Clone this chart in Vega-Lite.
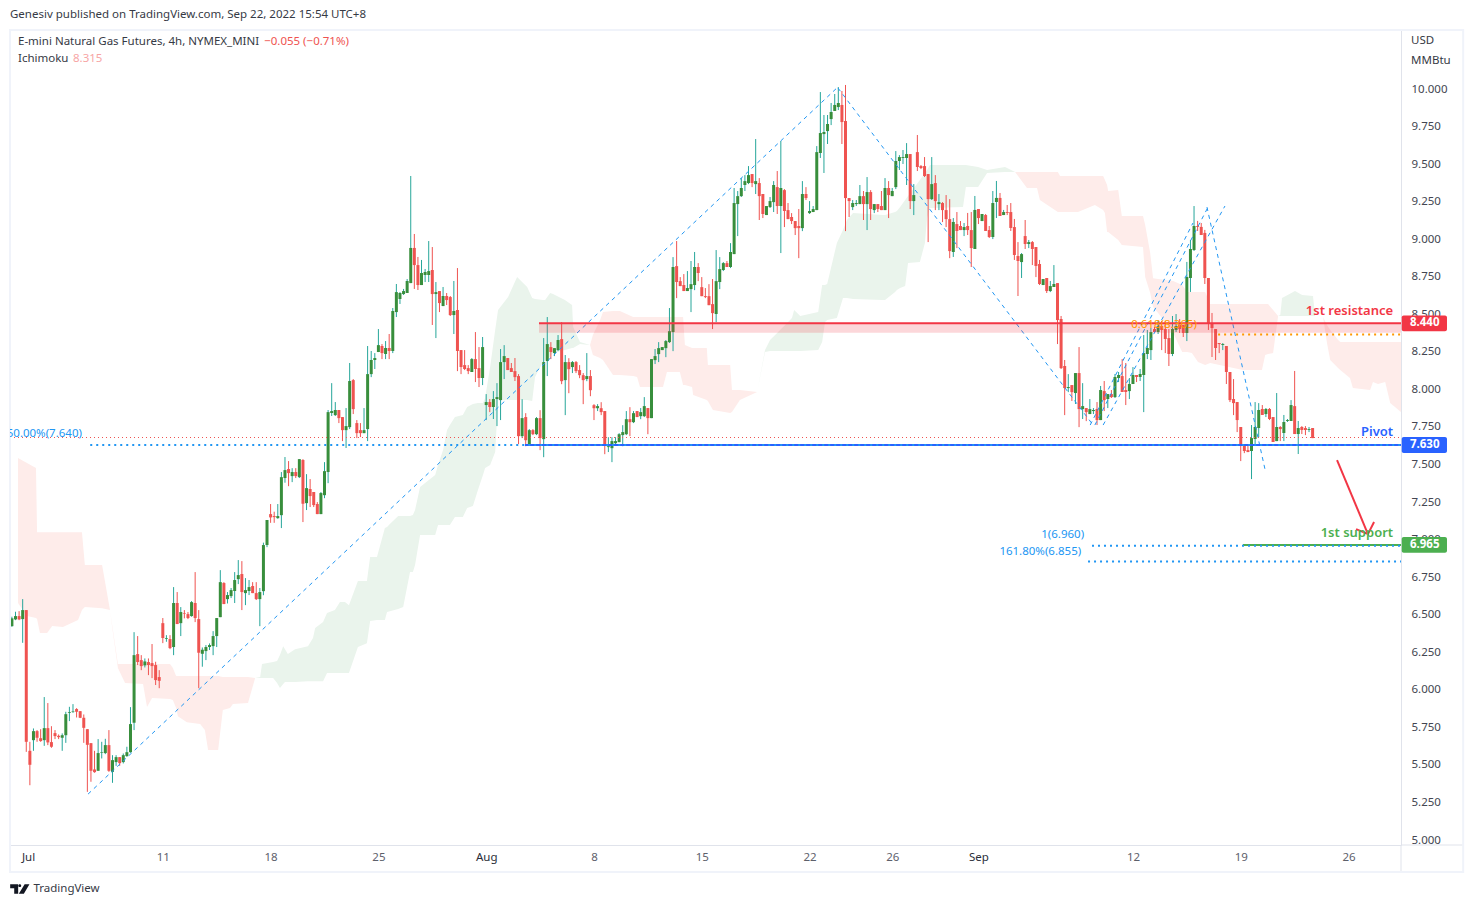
{"$schema":"https://vega.github.io/schema/vega-lite/v6.json","width":1391,"height":815,"autosize":{"type":"none"},"padding":{"left":10,"top":30,"right":72,"bottom":62},"background":"#ffffff","config":{"view":{"stroke":null},"font":"Noto Sans","text":{"font":"Noto Sans"},"scale":{"continuousPadding":0}},"resolve":{"axis":{"x":"independent","y":"independent"}},
"datasets":{"candles":[
{"b":-3,"o":6.424,"h":6.487,"l":6.42,"c":6.476},{"b":-2,"o":6.469,"h":6.52,"l":6.464,"c":6.491},{"b":-1,"o":6.491,"h":6.524,"l":6.464,"c":6.469},{"b":0,"o":6.471,"h":6.604,"l":6.313,"c":6.531},{"b":1,"o":6.531,"h":6.531,"l":5.587,"c":5.654},{"b":2,"o":5.594,"h":5.654,"l":5.365,"c":5.501},{"b":3,"o":5.665,"h":5.743,"l":5.594,"c":5.725},{"b":4,"o":5.725,"h":5.732,"l":5.654,"c":5.681},{"b":5,"o":5.678,"h":5.738,"l":5.654,"c":5.659},{"b":6,"o":5.665,"h":5.952,"l":5.627,"c":5.745},{"b":7,"o":5.745,"h":5.912,"l":5.632,"c":5.65},{"b":8,"o":5.652,"h":5.758,"l":5.614,"c":5.621},{"b":9,"o":5.712,"h":5.732,"l":5.672,"c":5.692},{"b":10,"o":5.694,"h":5.703,"l":5.672,"c":5.685},{"b":11,"o":5.681,"h":5.71,"l":5.594,"c":5.698},{"b":12,"o":5.698,"h":5.854,"l":5.647,"c":5.838},{"b":13,"o":5.847,"h":5.887,"l":5.792,"c":5.852},{"b":14,"o":5.852,"h":5.905,"l":5.847,"c":5.856},{"b":15,"o":5.872,"h":5.878,"l":5.816,"c":5.854},{"b":16,"o":5.858,"h":5.858,"l":5.812,"c":5.814},{"b":17,"o":5.814,"h":5.836,"l":5.647,"c":5.747},{"b":18,"o":5.738,"h":5.738,"l":5.321,"c":5.634},{"b":19,"o":5.645,"h":5.645,"l":5.388,"c":5.461},{"b":20,"o":5.47,"h":5.594,"l":5.448,"c":5.452},{"b":21,"o":5.461,"h":5.672,"l":5.461,"c":5.579},{"b":22,"o":5.581,"h":5.654,"l":5.543,"c":5.585},{"b":23,"o":5.579,"h":5.674,"l":5.572,"c":5.632},{"b":24,"o":5.632,"h":5.732,"l":5.454,"c":5.461},{"b":25,"o":5.454,"h":5.565,"l":5.381,"c":5.532},{"b":26,"o":5.519,"h":5.565,"l":5.494,"c":5.552},{"b":27,"o":5.552,"h":5.552,"l":5.494,"c":5.512},{"b":28,"o":5.519,"h":5.576,"l":5.51,"c":5.565},{"b":29,"o":5.559,"h":5.621,"l":5.554,"c":5.585},{"b":30,"o":5.585,"h":5.885,"l":5.581,"c":5.772},{"b":31,"o":5.781,"h":6.384,"l":5.732,"c":6.231},{"b":32,"o":6.238,"h":6.358,"l":6.165,"c":6.185},{"b":33,"o":6.198,"h":6.231,"l":6.131,"c":6.158},{"b":34,"o":6.163,"h":6.209,"l":6.149,"c":6.189},{"b":35,"o":6.185,"h":6.209,"l":6.098,"c":6.165},{"b":36,"o":6.178,"h":6.305,"l":6.078,"c":6.158},{"b":37,"o":6.165,"h":6.187,"l":6.032,"c":6.065},{"b":38,"o":6.085,"h":6.131,"l":6.011,"c":6.06},{"b":39,"o":6.444,"h":6.478,"l":6.311,"c":6.345},{"b":40,"o":6.34,"h":6.364,"l":6.32,"c":6.345},{"b":41,"o":6.338,"h":6.364,"l":6.271,"c":6.278},{"b":42,"o":6.285,"h":6.684,"l":6.231,"c":6.578},{"b":43,"o":6.578,"h":6.651,"l":6.438,"c":6.438},{"b":44,"o":6.444,"h":6.551,"l":6.358,"c":6.518},{"b":45,"o":6.511,"h":6.531,"l":6.476,"c":6.507},{"b":46,"o":6.504,"h":6.518,"l":6.471,"c":6.478},{"b":47,"o":6.491,"h":6.591,"l":6.487,"c":6.584},{"b":48,"o":6.578,"h":6.784,"l":6.451,"c":6.478},{"b":49,"o":6.471,"h":6.531,"l":6.011,"c":6.247},{"b":50,"o":6.24,"h":6.282,"l":6.154,"c":6.267},{"b":51,"o":6.258,"h":6.298,"l":6.198,"c":6.285},{"b":52,"o":6.285,"h":6.309,"l":6.265,"c":6.298},{"b":53,"o":6.291,"h":6.391,"l":6.231,"c":6.358},{"b":54,"o":6.358,"h":6.478,"l":6.285,"c":6.478},{"b":55,"o":6.484,"h":6.797,"l":6.484,"c":6.717},{"b":56,"o":6.711,"h":6.717,"l":6.571,"c":6.571},{"b":57,"o":6.604,"h":6.651,"l":6.575,"c":6.631},{"b":58,"o":6.624,"h":6.678,"l":6.611,"c":6.664},{"b":59,"o":6.658,"h":6.784,"l":6.578,"c":6.731},{"b":60,"o":6.737,"h":6.864,"l":6.704,"c":6.764},{"b":61,"o":6.771,"h":6.857,"l":6.531,"c":6.651},{"b":62,"o":6.644,"h":6.744,"l":6.564,"c":6.664},{"b":63,"o":6.658,"h":6.731,"l":6.631,"c":6.684},{"b":64,"o":6.691,"h":6.717,"l":6.644,"c":6.644},{"b":65,"o":6.644,"h":6.717,"l":6.598,"c":6.604},{"b":66,"o":6.604,"h":6.678,"l":6.424,"c":6.651},{"b":67,"o":6.657,"h":6.98,"l":6.63,"c":6.964},{"b":68,"o":6.964,"h":7.13,"l":6.95,"c":7.13},
{"b":69,"o":7.17,"h":7.237,"l":7.112,"c":7.148},{"b":70,"o":7.157,"h":7.186,"l":7.112,"c":7.15},{"b":71,"o":7.143,"h":7.237,"l":7.139,"c":7.157},{"b":72,"o":7.163,"h":7.45,"l":7.077,"c":7.416},{"b":73,"o":7.41,"h":7.55,"l":7.379,"c":7.463},{"b":74,"o":7.47,"h":7.523,"l":7.356,"c":7.443},{"b":75,"o":7.423,"h":7.476,"l":7.383,"c":7.45},{"b":76,"o":7.45,"h":7.476,"l":7.41,"c":7.423},{"b":77,"o":7.416,"h":7.536,"l":7.41,"c":7.536},{"b":78,"o":7.53,"h":7.536,"l":7.117,"c":7.239},{"b":79,"o":7.243,"h":7.436,"l":7.197,"c":7.343},{"b":80,"o":7.337,"h":7.403,"l":7.217,"c":7.29},{"b":81,"o":7.317,"h":7.317,"l":7.217,"c":7.23},{"b":82,"o":7.237,"h":7.25,"l":7.17,"c":7.17},{"b":83,"o":7.17,"h":7.317,"l":7.17,"c":7.31},{"b":84,"o":7.296,"h":7.516,"l":7.276,"c":7.456},{"b":85,"o":7.45,"h":7.863,"l":7.376,"c":7.849},{"b":86,"o":7.843,"h":8.042,"l":7.823,"c":7.856},{"b":87,"o":7.829,"h":7.916,"l":7.823,"c":7.863},{"b":88,"o":7.863,"h":7.863,"l":7.776,"c":7.809},{"b":89,"o":7.816,"h":7.816,"l":7.656,"c":7.729},{"b":90,"o":7.729,"h":7.876,"l":7.61,"c":7.756},{"b":91,"o":7.749,"h":8.176,"l":7.736,"c":8.056},{"b":92,"o":8.062,"h":8.069,"l":7.836,"c":7.869},{"b":93,"o":7.776,"h":7.796,"l":7.676,"c":7.709},{"b":94,"o":7.729,"h":7.776,"l":7.683,"c":7.709},{"b":95,"o":7.709,"h":7.876,"l":7.709,"c":7.729},{"b":96,"o":7.736,"h":8.289,"l":7.656,"c":8.102},{"b":97,"o":8.102,"h":8.256,"l":8.082,"c":8.196},{"b":98,"o":8.196,"h":8.242,"l":8.136,"c":8.209},{"b":99,"o":8.249,"h":8.402,"l":8.249,"c":8.295},{"b":100,"o":8.289,"h":8.302,"l":8.202,"c":8.242},{"b":101,"o":8.236,"h":8.322,"l":8.202,"c":8.276},{"b":102,"o":8.276,"h":8.369,"l":8.202,"c":8.256},{"b":103,"o":8.256,"h":8.542,"l":8.242,"c":8.522},{"b":104,"o":8.515,"h":8.702,"l":8.482,"c":8.648},{"b":105,"o":8.602,"h":8.648,"l":8.569,"c":8.642},{"b":106,"o":8.635,"h":8.669,"l":8.629,"c":8.655},{"b":107,"o":8.642,"h":8.735,"l":8.642,"c":8.722},{"b":108,"o":8.708,"h":9.421,"l":8.708,"c":8.942},{"b":109,"o":8.942,"h":9.035,"l":8.669,"c":8.828},{"b":110,"o":8.828,"h":8.882,"l":8.662,"c":8.695},{"b":111,"o":8.695,"h":8.862,"l":8.695,"c":8.775},{"b":112,"o":8.762,"h":8.802,"l":8.715,"c":8.782},{"b":113,"o":8.762,"h":8.988,"l":8.715,"c":8.788},{"b":114,"o":8.795,"h":8.948,"l":8.429,"c":8.635},{"b":115,"o":8.635,"h":8.715,"l":8.342,"c":8.648},{"b":116,"o":8.655,"h":8.655,"l":8.515,"c":8.575},{"b":117,"o":8.555,"h":8.682,"l":8.555,"c":8.622},{"b":118,"o":8.622,"h":8.642,"l":8.562,"c":8.595},{"b":119,"o":8.615,"h":8.622,"l":8.489,"c":8.495},{"b":120,"o":8.495,"h":8.722,"l":8.369,"c":8.522},{"b":121,"o":8.529,"h":8.808,"l":8.122,"c":8.256},{"b":122,"o":8.262,"h":8.262,"l":8.102,"c":8.149},{"b":123,"o":8.162,"h":8.262,"l":8.129,"c":8.136},{"b":124,"o":8.142,"h":8.162,"l":8.102,"c":8.122},{"b":125,"o":8.116,"h":8.209,"l":8.116,"c":8.202},{"b":126,"o":8.202,"h":8.382,"l":8.049,"c":8.136},{"b":127,"o":8.142,"h":8.282,"l":8.016,"c":8.076},{"b":128,"o":8.076,"h":8.349,"l":8.029,"c":8.282},{"b":129,"o":7.896,"h":7.969,"l":7.796,"c":7.916},{"b":130,"o":7.916,"h":7.936,"l":7.849,"c":7.883},{"b":131,"o":7.883,"h":7.989,"l":7.803,"c":7.936},{"b":132,"o":7.936,"h":8.042,"l":7.756,"c":7.949},{"b":133,"o":7.929,"h":8.269,"l":7.796,"c":8.182},{"b":134,"o":8.182,"h":8.295,"l":8.069,"c":8.222},{"b":135,"o":8.209,"h":8.209,"l":8.129,"c":8.129},{"b":136,"o":8.142,"h":8.176,"l":8.116,"c":8.116},{"b":137,"o":8.122,"h":8.209,"l":8.056,"c":8.082},{"b":138,"o":8.089,"h":8.102,"l":7.636,"c":7.689},
{"b":139,"o":7.689,"h":7.935,"l":7.676,"c":7.809},{"b":140,"o":7.816,"h":7.842,"l":7.622,"c":7.662},{"b":141,"o":7.636,"h":7.736,"l":7.629,"c":7.729},{"b":142,"o":7.729,"h":7.736,"l":7.696,"c":7.702},{"b":143,"o":7.702,"h":7.816,"l":7.696,"c":7.809},{"b":144,"o":7.809,"h":7.862,"l":7.596,"c":7.676},{"b":145,"o":7.669,"h":8.342,"l":7.549,"c":8.182},{"b":146,"o":8.189,"h":8.482,"l":8.089,"c":8.302},{"b":147,"o":8.282,"h":8.315,"l":8.202,"c":8.249},{"b":148,"o":8.242,"h":8.275,"l":8.222,"c":8.275},{"b":149,"o":8.262,"h":8.362,"l":8.255,"c":8.329},{"b":150,"o":8.335,"h":8.448,"l":8.035,"c":8.055},{"b":151,"o":8.062,"h":8.229,"l":7.829,"c":8.182},{"b":152,"o":8.182,"h":8.208,"l":7.975,"c":8.135},{"b":153,"o":8.149,"h":8.189,"l":8.109,"c":8.182},{"b":154,"o":8.182,"h":8.189,"l":8.109,"c":8.122},{"b":155,"o":8.129,"h":8.162,"l":8.075,"c":8.095},{"b":156,"o":8.095,"h":8.109,"l":7.902,"c":8.062},{"b":157,"o":8.069,"h":8.242,"l":8.055,"c":8.089},{"b":158,"o":8.089,"h":8.129,"l":7.955,"c":7.995},{"b":159,"o":7.895,"h":7.902,"l":7.796,"c":7.875},{"b":160,"o":7.875,"h":7.902,"l":7.856,"c":7.889},{"b":161,"o":7.875,"h":7.915,"l":7.829,"c":7.849},{"b":162,"o":7.856,"h":7.856,"l":7.569,"c":7.629},{"b":163,"o":7.616,"h":7.682,"l":7.583,"c":7.622},{"b":164,"o":7.609,"h":7.682,"l":7.516,"c":7.656},{"b":165,"o":7.642,"h":7.682,"l":7.636,"c":7.656},{"b":166,"o":7.649,"h":7.709,"l":7.649,"c":7.702},{"b":167,"o":7.696,"h":7.762,"l":7.622,"c":7.716},{"b":168,"o":7.702,"h":7.856,"l":7.696,"c":7.802},{"b":169,"o":7.802,"h":7.882,"l":7.689,"c":7.782},{"b":170,"o":7.782,"h":7.856,"l":7.776,"c":7.842},{"b":171,"o":7.856,"h":7.856,"l":7.816,"c":7.816},{"b":172,"o":7.822,"h":7.876,"l":7.802,"c":7.849},{"b":173,"o":7.822,"h":7.949,"l":7.816,"c":7.889},{"b":174,"o":7.876,"h":7.876,"l":7.702,"c":7.809},{"b":175,"o":7.809,"h":8.202,"l":7.809,"c":8.202},{"b":176,"o":8.195,"h":8.269,"l":8.169,"c":8.222},{"b":177,"o":8.235,"h":8.315,"l":8.182,"c":8.275},{"b":178,"o":8.262,"h":8.282,"l":8.262,"c":8.282},{"b":179,"o":8.275,"h":8.329,"l":8.215,"c":8.322},{"b":180,"o":8.315,"h":8.542,"l":8.309,"c":8.388},{"b":181,"o":8.382,"h":8.881,"l":8.255,"c":8.815},{"b":182,"o":8.821,"h":8.988,"l":8.608,"c":8.715},{"b":183,"o":8.721,"h":8.748,"l":8.688,"c":8.688},{"b":184,"o":8.695,"h":8.768,"l":8.655,"c":8.655},{"b":185,"o":8.655,"h":8.788,"l":8.655,"c":8.675},{"b":186,"o":8.668,"h":8.855,"l":8.515,"c":8.701},{"b":187,"o":8.695,"h":8.915,"l":8.661,"c":8.815},{"b":188,"o":8.815,"h":8.841,"l":8.721,"c":8.775},
{"b":189,"o":8.681,"h":8.748,"l":8.621,"c":8.621},{"b":190,"o":8.621,"h":8.675,"l":8.608,"c":8.615},{"b":191,"o":8.621,"h":8.701,"l":8.561,"c":8.561},{"b":192,"o":8.568,"h":8.735,"l":8.402,"c":8.508},{"b":193,"o":8.502,"h":8.928,"l":8.448,"c":8.721},{"b":194,"o":8.715,"h":8.881,"l":8.668,"c":8.801},{"b":195,"o":8.795,"h":8.848,"l":8.788,"c":8.841},{"b":196,"o":8.841,"h":8.855,"l":8.815,"c":8.815},{"b":197,"o":8.815,"h":8.974,"l":8.808,"c":8.915},{"b":198,"o":8.901,"h":9.341,"l":8.901,"c":9.241},{"b":199,"o":9.234,"h":9.321,"l":9.021,"c":9.287},{"b":200,"o":9.287,"h":9.407,"l":9.281,"c":9.341},{"b":201,"o":9.361,"h":9.427,"l":9.321,"c":9.387},{"b":202,"o":9.374,"h":9.487,"l":9.367,"c":9.427},{"b":203,"o":9.434,"h":9.434,"l":9.347,"c":9.374},{"b":204,"o":9.367,"h":9.667,"l":9.301,"c":9.387},{"b":205,"o":9.374,"h":9.407,"l":9.128,"c":9.287},{"b":206,"o":9.301,"h":9.301,"l":9.141,"c":9.168},{"b":207,"o":9.161,"h":9.221,"l":9.161,"c":9.221},{"b":208,"o":9.214,"h":9.281,"l":9.208,"c":9.254},{"b":209,"o":9.247,"h":9.387,"l":9.181,"c":9.361},{"b":210,"o":9.347,"h":9.454,"l":9.168,"c":9.221},{"b":211,"o":9.221,"h":9.654,"l":8.908,"c":9.341},{"b":212,"o":9.327,"h":9.334,"l":9.081,"c":9.188},{"b":213,"o":9.194,"h":9.241,"l":9.134,"c":9.134},{"b":214,"o":9.148,"h":9.174,"l":9.101,"c":9.121},{"b":215,"o":9.121,"h":9.121,"l":9.028,"c":9.074},{"b":216,"o":9.088,"h":9.201,"l":8.874,"c":9.074},{"b":217,"o":9.074,"h":9.387,"l":9.054,"c":9.301},{"b":218,"o":9.301,"h":9.347,"l":9.261,"c":9.274},{"b":219,"o":9.174,"h":9.254,"l":9.168,"c":9.188},{"b":220,"o":9.181,"h":9.221,"l":9.181,"c":9.201},{"b":221,"o":9.194,"h":9.62,"l":9.194,"c":9.58},{"b":222,"o":9.574,"h":9.98,"l":9.541,"c":9.707},{"b":223,"o":9.7,"h":9.827,"l":9.441,"c":9.714},{"b":224,"o":9.72,"h":9.827,"l":9.634,"c":9.767},{"b":225,"o":9.8,"h":9.907,"l":9.76,"c":9.847},{"b":226,"o":9.854,"h":9.967,"l":9.854,"c":9.894},{"b":227,"o":9.88,"h":10.013,"l":9.86,"c":9.907},{"b":228,"o":9.894,"h":9.987,"l":9.634,"c":9.78},{"b":229,"o":9.787,"h":10.027,"l":9.054,"c":9.274},{"b":230,"o":9.274,"h":9.274,"l":9.148,"c":9.254},{"b":231,"o":9.214,"h":9.261,"l":9.194,"c":9.241},{"b":232,"o":9.234,"h":9.261,"l":9.221,"c":9.241},{"b":233,"o":9.234,"h":9.361,"l":9.234,"c":9.287},{"b":234,"o":9.287,"h":9.321,"l":9.128,"c":9.234},{"b":235,"o":9.234,"h":9.414,"l":9.061,"c":9.314},{"b":236,"o":9.314,"h":9.327,"l":9.128,"c":9.201},{"b":237,"o":9.194,"h":9.234,"l":9.174,"c":9.234},{"b":238,"o":9.234,"h":9.234,"l":9.181,"c":9.201},{"b":239,"o":9.221,"h":9.321,"l":9.194,"c":9.194},{"b":240,"o":9.194,"h":9.407,"l":9.194,"c":9.341},{"b":241,"o":9.341,"h":9.387,"l":9.141,"c":9.294},{"b":242,"o":9.287,"h":9.341,"l":9.287,"c":9.321},{"b":243,"o":9.347,"h":9.587,"l":9.334,"c":9.521},{"b":244,"o":9.521,"h":9.56,"l":9.461,"c":9.547},{"b":245,"o":9.541,"h":9.594,"l":9.501,"c":9.547},{"b":246,"o":9.541,"h":9.64,"l":9.361,"c":9.567},{"b":247,"o":9.567,"h":9.567,"l":9.201,"c":9.254},{"b":248,"o":9.254,"h":9.367,"l":9.161,"c":9.294},{"b":249,"o":9.58,"h":9.694,"l":9.454,"c":9.481},{"b":250,"o":9.487,"h":9.494,"l":9.467,"c":9.474},{"b":251,"o":9.487,"h":9.547,"l":9.414,"c":9.421},{"b":252,"o":9.434,"h":9.434,"l":8.981,"c":9.267},{"b":253,"o":9.267,"h":9.547,"l":9.261,"c":9.367},{"b":254,"o":9.374,"h":9.427,"l":9.194,"c":9.254},{"b":255,"o":9.234,"h":9.301,"l":9.194,"c":9.247},{"b":256,"o":9.241,"h":9.247,"l":9.114,"c":9.194},{"b":257,"o":9.194,"h":9.294,"l":9.081,"c":9.134},{"b":258,"o":9.134,"h":9.267,"l":8.874,"c":8.921},
{"b":259,"o":8.915,"h":9.141,"l":8.882,"c":9.115},{"b":260,"o":9.101,"h":9.181,"l":8.941,"c":9.055},{"b":261,"o":9.088,"h":9.121,"l":9.061,"c":9.061},{"b":262,"o":9.061,"h":9.108,"l":9.021,"c":9.081},{"b":263,"o":9.088,"h":9.175,"l":9.028,"c":9.061},{"b":264,"o":9.061,"h":9.181,"l":8.815,"c":8.941},{"b":265,"o":8.935,"h":9.288,"l":8.935,"c":9.195},{"b":266,"o":9.201,"h":9.201,"l":9.101,"c":9.141},{"b":267,"o":9.121,"h":9.168,"l":9.121,"c":9.168},{"b":268,"o":9.161,"h":9.168,"l":9.055,"c":9.055},{"b":269,"o":9.061,"h":9.088,"l":9.008,"c":9.015},{"b":270,"o":9.015,"h":9.321,"l":9.001,"c":9.241},{"b":271,"o":9.248,"h":9.388,"l":9.141,"c":9.275},{"b":272,"o":9.275,"h":9.308,"l":9.155,"c":9.155},{"b":273,"o":9.161,"h":9.195,"l":9.161,"c":9.181},{"b":274,"o":9.181,"h":9.228,"l":9.161,"c":9.175},{"b":275,"o":9.181,"h":9.241,"l":9.055,"c":9.075},{"b":276,"o":9.081,"h":9.135,"l":8.862,"c":8.895},{"b":277,"o":8.888,"h":8.981,"l":8.622,"c":8.855},{"b":278,"o":8.848,"h":8.908,"l":8.742,"c":8.901},{"b":279,"o":9.021,"h":9.128,"l":8.935,"c":8.968},{"b":280,"o":8.968,"h":8.995,"l":8.941,"c":8.981},{"b":281,"o":8.981,"h":8.988,"l":8.828,"c":8.935},{"b":282,"o":8.948,"h":8.948,"l":8.748,"c":8.822},{"b":283,"o":8.835,"h":8.862,"l":8.695,"c":8.702},{"b":284,"o":8.695,"h":8.735,"l":8.695,"c":8.735},{"b":285,"o":8.742,"h":8.742,"l":8.642,"c":8.655},{"b":286,"o":8.655,"h":8.722,"l":8.648,"c":8.688},{"b":287,"o":8.682,"h":8.828,"l":8.682,"c":8.702},{"b":288,"o":8.708,"h":8.708,"l":8.302,"c":8.462},{"b":289,"o":8.469,"h":8.489,"l":8.136,"c":8.142},{"b":290,"o":8.156,"h":8.196,"l":7.829,"c":8.009},{"b":291,"o":8.009,"h":8.102,"l":7.982,"c":8.016},{"b":292,"o":8.029,"h":8.029,"l":7.923,"c":7.982},{"b":293,"o":7.976,"h":8.109,"l":7.903,"c":8.109},{"b":294,"o":8.109,"h":8.282,"l":7.749,"c":7.869},{"b":295,"o":7.869,"h":8.042,"l":7.803,"c":7.889},{"b":296,"o":7.876,"h":7.876,"l":7.789,"c":7.849},{"b":297,"o":7.836,"h":7.936,"l":7.836,"c":7.869},
{"b":298,"o":7.856,"h":7.876,"l":7.836,"c":7.863},{"b":299,"o":7.87,"h":7.916,"l":7.763,"c":7.796},{"b":300,"o":7.796,"h":8.023,"l":7.796,"c":7.996},{"b":301,"o":7.989,"h":8.056,"l":7.856,"c":7.929},{"b":302,"o":7.936,"h":7.969,"l":7.876,"c":7.969},{"b":303,"o":7.969,"h":7.996,"l":7.943,"c":7.949},{"b":304,"o":7.949,"h":8.103,"l":7.943,"c":8.083},{"b":305,"o":8.076,"h":8.116,"l":8.049,"c":8.096},{"b":306,"o":8.089,"h":8.202,"l":7.983,"c":7.983},{"b":307,"o":7.996,"h":8.176,"l":7.896,"c":7.983},{"b":308,"o":7.989,"h":8.076,"l":7.936,"c":8.036},{"b":309,"o":8.036,"h":8.149,"l":8.036,"c":8.096},{"b":310,"o":8.096,"h":8.096,"l":8.049,"c":8.083},{"b":311,"o":8.083,"h":8.136,"l":8.056,"c":8.103},{"b":312,"o":8.096,"h":8.362,"l":7.849,"c":8.242},{"b":313,"o":8.236,"h":8.396,"l":8.202,"c":8.276},{"b":314,"o":8.262,"h":8.409,"l":8.196,"c":8.382},{"b":315,"o":8.402,"h":8.416,"l":8.382,"c":8.382},{"b":316,"o":8.382,"h":8.462,"l":8.369,"c":8.422},{"b":317,"o":8.422,"h":8.456,"l":8.262,"c":8.396},{"b":318,"o":8.402,"h":8.456,"l":8.242,"c":8.336},{"b":319,"o":8.342,"h":8.402,"l":8.156,"c":8.236},{"b":320,"o":8.236,"h":8.489,"l":8.222,"c":8.402},{"b":321,"o":8.396,"h":8.502,"l":8.382,"c":8.422},{"b":322,"o":8.429,"h":8.469,"l":8.376,"c":8.402},{"b":323,"o":8.429,"h":8.429,"l":8.349,"c":8.376},{"b":324,"o":8.376,"h":8.849,"l":8.322,"c":8.749},{"b":325,"o":8.742,"h":8.995,"l":8.649,"c":8.935},{"b":326,"o":8.928,"h":9.221,"l":8.922,"c":9.088},{"b":327,"o":9.088,"h":9.122,"l":9.055,"c":9.082},{"b":328,"o":9.082,"h":9.108,"l":9.028,"c":9.028},{"b":329,"o":9.042,"h":9.062,"l":8.702,"c":8.742},{"b":330,"o":8.742,"h":8.742,"l":8.396,"c":8.442},{"b":331,"o":8.442,"h":8.509,"l":8.216,"c":8.409},{"b":332,"o":8.402,"h":8.402,"l":8.196,"c":8.276},{"b":333,"o":8.309,"h":8.309,"l":8.242,"c":8.302},{"b":334,"o":8.296,"h":8.309,"l":8.262,"c":8.302},{"b":335,"o":8.289,"h":8.289,"l":8.036,"c":8.116},{"b":336,"o":8.116,"h":8.116,"l":7.916,"c":7.929},{"b":337,"o":7.936,"h":8.069,"l":7.829,"c":7.909},{"b":338,"o":7.916,"h":7.916,"l":7.716,"c":7.796},{"b":339,"o":7.75,"h":7.75,"l":7.523,"c":7.63},{"b":340,"o":7.636,"h":7.636,"l":7.576,"c":7.59},{"b":341,"o":7.596,"h":7.63,"l":7.583,"c":7.583},{"b":342,"o":7.59,"h":7.763,"l":7.403,"c":7.676},{"b":343,"o":7.67,"h":7.916,"l":7.623,"c":7.75},{"b":344,"o":7.743,"h":7.909,"l":7.683,"c":7.863},{"b":345,"o":7.87,"h":7.896,"l":7.83,"c":7.83},{"b":346,"o":7.836,"h":7.876,"l":7.816,"c":7.87},{"b":347,"o":7.87,"h":7.876,"l":7.796,"c":7.803},{"b":348,"o":7.816,"h":7.816,"l":7.65,"c":7.65},{"b":349,"o":7.656,"h":7.976,"l":7.656,"c":7.75},{"b":350,"o":7.75,"h":7.756,"l":7.656,"c":7.736},{"b":351,"o":7.71,"h":7.83,"l":7.656,"c":7.783},{"b":352,"o":7.79,"h":7.803,"l":7.783,"c":7.796},{"b":353,"o":7.79,"h":7.929,"l":7.79,"c":7.896},{"b":354,"o":7.889,"h":8.123,"l":7.703,"c":7.703},{"b":355,"o":7.703,"h":7.79,"l":7.57,"c":7.743},{"b":356,"o":7.75,"h":7.756,"l":7.703,"c":7.73},{"b":357,"o":7.743,"h":7.756,"l":7.696,"c":7.73},{"b":358,"o":7.73,"h":7.75,"l":7.716,"c":7.736},{"b":359,"o":7.743,"h":7.743,"l":7.676,"c":7.676}],
"cloud":[
{"s":"a","k":"down","b":-1.3,"t":7.543,"n":6.578},{"s":"a","k":"down","b":1.2,"t":7.51,"n":6.491},{"s":"a","k":"down","b":3.7,"t":7.477,"n":6.478},{"s":"a","k":"down","b":4,"t":7.05,"n":6.471},{"s":"a","k":"down","b":4.8,"t":7.05,"n":6.378},{"s":"a","k":"down","b":6.8,"t":7.05,"n":6.378},{"s":"a","k":"down","b":8.2,"t":7.05,"n":6.425},{"s":"a","k":"down","b":11.2,"t":7.05,"n":6.418},{"s":"a","k":"down","b":15.4,"t":7.05,"n":6.465},{"s":"a","k":"down","b":16.5,"t":7.05,"n":6.531},{"s":"a","k":"down","b":17.3,"t":6.831,"n":6.551},{"s":"a","k":"down","b":22.1,"t":6.831,"n":6.544},{"s":"a","k":"down","b":24.3,"t":6.531,"n":6.531},{"s":"a","k":"down","b":24.9,"t":6.431,"n":6.418},{"s":"a","k":"down","b":26.5,"t":6.172,"n":6.145},{"s":"a","k":"down","b":28.5,"t":6.172,"n":6.045},{"s":"a","k":"down","b":33.5,"t":6.172,"n":6.039},{"s":"a","k":"down","b":34.6,"t":6.172,"n":5.885},{"s":"a","k":"down","b":36,"t":6.172,"n":5.945},{"s":"a","k":"down","b":41,"t":6.172,"n":5.939},{"s":"a","k":"down","b":41.8,"t":6.145,"n":5.932},{"s":"a","k":"down","b":42.7,"t":6.092,"n":5.879},{"s":"a","k":"down","b":43.2,"t":6.092,"n":5.825},{"s":"a","k":"down","b":45.7,"t":6.092,"n":5.785},{"s":"a","k":"down","b":49.4,"t":6.092,"n":5.772},{"s":"a","k":"down","b":50.7,"t":6.092,"n":5.732},{"s":"a","k":"down","b":51.6,"t":6.092,"n":5.599},{"s":"a","k":"down","b":54.4,"t":6.092,"n":5.599},{"s":"a","k":"down","b":55.7,"t":6.085,"n":5.865},{"s":"a","k":"down","b":57.7,"t":6.085,"n":5.879},{"s":"a","k":"down","b":58.5,"t":6.085,"n":5.905},{"s":"a","k":"down","b":62.7,"t":6.085,"n":5.912},{"s":"a","k":"down","b":64.7,"t":6.079,"n":6.079},
{"s":"b","k":"up","b":64.7,"t":6.079,"n":6.079},{"s":"b","k":"up","b":66.1,"t":6.085,"n":6.079},{"s":"b","k":"up","b":66.6,"t":6.172,"n":6.079},{"s":"b","k":"up","b":69.7,"t":6.185,"n":6.079},{"s":"b","k":"up","b":70.8,"t":6.192,"n":6.045},{"s":"b","k":"up","b":71.6,"t":6.232,"n":6.012},{"s":"b","k":"up","b":72.5,"t":6.291,"n":6.039},{"s":"b","k":"up","b":73,"t":6.271,"n":6.052},{"s":"b","k":"up","b":73.8,"t":6.238,"n":6.052},{"s":"b","k":"up","b":75.8,"t":6.271,"n":6.052},{"s":"b","k":"up","b":79.4,"t":6.291,"n":6.058},{"s":"b","k":"up","b":80.8,"t":6.345,"n":6.058},{"s":"b","k":"up","b":81.4,"t":6.411,"n":6.058},{"s":"b","k":"up","b":83.6,"t":6.451,"n":6.058},{"s":"b","k":"up","b":84.7,"t":6.511,"n":6.112},{"s":"b","k":"up","b":86.9,"t":6.531,"n":6.112},{"s":"b","k":"up","b":88.3,"t":6.584,"n":6.112},{"s":"b","k":"up","b":89.7,"t":6.584,"n":6.112},{"s":"b","k":"up","b":90.8,"t":6.564,"n":6.112},{"s":"b","k":"up","b":93.3,"t":6.724,"n":6.285},{"s":"b","k":"up","b":95.8,"t":6.724,"n":6.311},{"s":"b","k":"up","b":96.7,"t":6.884,"n":6.458},{"s":"b","k":"up","b":98.6,"t":6.884,"n":6.465},{"s":"b","k":"up","b":100.8,"t":7.077,"n":6.465},{"s":"b","k":"up","b":101.4,"t":7.084,"n":6.518},{"s":"b","k":"up","b":102.2,"t":7.104,"n":6.524},{"s":"b","k":"up","b":104.5,"t":7.157,"n":6.538},{"s":"b","k":"up","b":105.9,"t":7.157,"n":6.551},{"s":"b","k":"up","b":107.8,"t":7.157,"n":6.784},{"s":"b","k":"up","b":108.6,"t":7.164,"n":6.784},{"s":"b","k":"up","b":109.2,"t":7.197,"n":6.831},{"s":"b","k":"up","b":110.6,"t":7.35,"n":7.031},{"s":"b","k":"up","b":114.8,"t":7.43,"n":7.031},{"s":"b","k":"up","b":115.6,"t":7.497,"n":7.097},{"s":"b","k":"up","b":117,"t":7.596,"n":7.097},{"s":"b","k":"up","b":118.1,"t":7.73,"n":7.097},{"s":"b","k":"up","b":118.9,"t":7.763,"n":7.097},{"s":"b","k":"up","b":120.3,"t":7.816,"n":7.15},{"s":"b","k":"up","b":122.5,"t":7.83,"n":7.15},{"s":"b","k":"up","b":123.7,"t":7.883,"n":7.21},{"s":"b","k":"up","b":125.3,"t":7.903,"n":7.224},{"s":"b","k":"up","b":126.7,"t":7.909,"n":7.33},{"s":"b","k":"up","b":128.1,"t":7.909,"n":7.43},{"s":"b","k":"up","b":128.7,"t":7.943,"n":7.477},{"s":"b","k":"up","b":130.1,"t":8.149,"n":7.497},{"s":"b","k":"up","b":131.5,"t":8.395,"n":7.583},{"s":"b","k":"up","b":132.3,"t":8.529,"n":7.929},{"s":"b","k":"up","b":135.1,"t":8.615,"n":7.929},{"s":"b","k":"up","b":137.6,"t":8.749,"n":7.929},{"s":"b","k":"up","b":140.4,"t":8.682,"n":7.929},{"s":"b","k":"up","b":141.8,"t":8.608,"n":7.923},{"s":"b","k":"up","b":142.6,"t":8.602,"n":8.082},{"s":"b","k":"up","b":144.8,"t":8.595,"n":8.182},{"s":"b","k":"up","b":145.4,"t":8.595,"n":8.196},{"s":"b","k":"up","b":146.8,"t":8.642,"n":8.216},{"s":"b","k":"up","b":147.6,"t":8.635,"n":8.242},{"s":"b","k":"up","b":150.9,"t":8.595,"n":8.262},{"s":"b","k":"up","b":152.9,"t":8.562,"n":8.276},{"s":"b","k":"up","b":153.2,"t":8.415,"n":8.276},{"s":"b","k":"up","b":155.1,"t":8.315,"n":8.302},{"s":"b","k":"up","b":157.9,"t":8.296,"n":8.296},
{"s":"c","k":"down","b":157.9,"t":8.296,"n":8.296},{"s":"c","k":"down","b":158.7,"t":8.362,"n":8.229},{"s":"c","k":"down","b":160.7,"t":8.462,"n":8.209},{"s":"c","k":"down","b":161.5,"t":8.515,"n":8.196},{"s":"c","k":"down","b":164.3,"t":8.522,"n":8.096},{"s":"c","k":"down","b":166.2,"t":8.522,"n":8.096},{"s":"c","k":"down","b":169.9,"t":8.482,"n":8.089},{"s":"c","k":"down","b":171,"t":8.482,"n":8.082},{"s":"c","k":"down","b":171.8,"t":8.482,"n":8.016},{"s":"c","k":"down","b":178.2,"t":8.482,"n":8.016},{"s":"c","k":"down","b":179.3,"t":8.482,"n":8.116},{"s":"c","k":"down","b":182.9,"t":8.482,"n":8.116},{"s":"c","k":"down","b":183.8,"t":8.482,"n":8.029},{"s":"c","k":"down","b":184.3,"t":8.296,"n":8.029},{"s":"c","k":"down","b":186.3,"t":8.276,"n":8.016},{"s":"c","k":"down","b":186.6,"t":8.276,"n":7.963},{"s":"c","k":"down","b":190.4,"t":8.276,"n":7.929},{"s":"c","k":"down","b":190.7,"t":8.162,"n":7.923},{"s":"c","k":"down","b":192.1,"t":8.162,"n":7.863},{"s":"c","k":"down","b":196.9,"t":8.162,"n":7.843},{"s":"c","k":"down","b":197.4,"t":7.996,"n":7.849},{"s":"c","k":"down","b":199.6,"t":7.996,"n":7.929},{"s":"c","k":"down","b":204.4,"t":7.983,"n":7.983},
{"s":"d","k":"up","b":204.4,"t":7.983,"n":7.983},{"s":"d","k":"up","b":206.6,"t":8.262,"n":8.249},{"s":"d","k":"up","b":208,"t":8.329,"n":8.256},{"s":"d","k":"up","b":212.2,"t":8.429,"n":8.256},{"s":"d","k":"up","b":214.1,"t":8.475,"n":8.256},{"s":"d","k":"up","b":214.7,"t":8.529,"n":8.256},{"s":"d","k":"up","b":216.4,"t":8.489,"n":8.256},{"s":"d","k":"up","b":221.4,"t":8.515,"n":8.262},{"s":"d","k":"up","b":222.5,"t":8.695,"n":8.315},{"s":"d","k":"up","b":223.3,"t":8.695,"n":8.449},{"s":"d","k":"up","b":223.9,"t":8.702,"n":8.462},{"s":"d","k":"up","b":226.6,"t":8.975,"n":8.475},{"s":"d","k":"up","b":228.3,"t":9.061,"n":8.608},{"s":"d","k":"up","b":229.4,"t":9.128,"n":8.608},{"s":"d","k":"up","b":231.1,"t":9.174,"n":8.602},{"s":"d","k":"up","b":239.4,"t":9.161,"n":8.595},{"s":"d","k":"up","b":240,"t":9.161,"n":8.595},{"s":"d","k":"up","b":242.8,"t":9.181,"n":8.648},{"s":"d","k":"up","b":243.3,"t":9.188,"n":8.662},{"s":"d","k":"up","b":244.2,"t":9.214,"n":8.675},{"s":"d","k":"up","b":245.6,"t":9.261,"n":8.688},{"s":"d","k":"up","b":246.4,"t":9.288,"n":8.841},{"s":"d","k":"up","b":249.7,"t":9.394,"n":8.848},{"s":"d","k":"up","b":251.1,"t":9.441,"n":8.975},{"s":"d","k":"up","b":251.7,"t":9.461,"n":9.141},{"s":"d","k":"up","b":252.5,"t":9.494,"n":9.208},{"s":"d","k":"up","b":261.7,"t":9.494,"n":9.214},{"s":"d","k":"up","b":262.5,"t":9.494,"n":9.347},{"s":"d","k":"up","b":265.9,"t":9.481,"n":9.347},{"s":"d","k":"up","b":268.4,"t":9.461,"n":9.441},{"s":"d","k":"up","b":273.4,"t":9.481,"n":9.447},{"s":"d","k":"up","b":276.2,"t":9.447,"n":9.447},
{"s":"e","k":"down","b":276.2,"t":9.447,"n":9.447},{"s":"e","k":"down","b":279.5,"t":9.447,"n":9.341},{"s":"e","k":"down","b":282.3,"t":9.447,"n":9.341},{"s":"e","k":"down","b":283.1,"t":9.447,"n":9.261},{"s":"e","k":"down","b":288.1,"t":9.447,"n":9.181},{"s":"e","k":"down","b":288.7,"t":9.421,"n":9.181},{"s":"e","k":"down","b":293.7,"t":9.421,"n":9.181},{"s":"e","k":"down","b":298.4,"t":9.421,"n":9.228},{"s":"e","k":"down","b":300.7,"t":9.421,"n":9.194},{"s":"e","k":"down","b":301.2,"t":9.394,"n":9.174},{"s":"e","k":"down","b":301.8,"t":9.361,"n":9.048},{"s":"e","k":"down","b":302.1,"t":9.321,"n":9.048},{"s":"e","k":"down","b":304.9,"t":9.327,"n":8.995},{"s":"e","k":"down","b":305.9,"t":9.154,"n":8.961},{"s":"e","k":"down","b":311.8,"t":9.154,"n":8.948},{"s":"e","k":"down","b":312.4,"t":9.094,"n":8.748},{"s":"e","k":"down","b":313.8,"t":8.908,"n":8.642},{"s":"e","k":"down","b":314.6,"t":8.741,"n":8.549},{"s":"e","k":"down","b":316,"t":8.735,"n":8.509},{"s":"e","k":"down","b":320.2,"t":8.722,"n":8.375},{"s":"e","k":"down","b":322.7,"t":8.695,"n":8.249},{"s":"e","k":"down","b":324.1,"t":8.648,"n":8.249},{"s":"e","k":"down","b":325.4,"t":8.648,"n":8.242},{"s":"e","k":"down","b":327.1,"t":8.648,"n":8.182},{"s":"e","k":"down","b":329.1,"t":8.648,"n":8.162},{"s":"e","k":"down","b":330.5,"t":8.568,"n":8.176},{"s":"e","k":"down","b":339.6,"t":8.568,"n":8.129},{"s":"e","k":"down","b":344.9,"t":8.568,"n":8.129},{"s":"e","k":"down","b":345.8,"t":8.568,"n":8.229},{"s":"e","k":"down","b":346.6,"t":8.568,"n":8.236},{"s":"e","k":"down","b":348,"t":8.529,"n":8.242},{"s":"e","k":"down","b":349.4,"t":8.489,"n":8.489},
{"s":"f","k":"up","b":349.4,"t":8.489,"n":8.489},{"s":"f","k":"up","b":350,"t":8.495,"n":8.489},{"s":"f","k":"up","b":350.5,"t":8.608,"n":8.489},{"s":"f","k":"up","b":354.1,"t":8.655,"n":8.489},{"s":"f","k":"up","b":356.1,"t":8.628,"n":8.489},{"s":"f","k":"up","b":359.1,"t":8.622,"n":8.489},{"s":"f","k":"up","b":359.7,"t":8.489,"n":8.489},
{"s":"g","k":"down","b":361.9,"t":8.482,"n":8.482},{"s":"g","k":"down","b":363,"t":8.429,"n":8.309},{"s":"g","k":"down","b":363.9,"t":8.395,"n":8.196},{"s":"g","k":"down","b":366.1,"t":8.329,"n":8.142},{"s":"g","k":"down","b":366.7,"t":8.315,"n":8.129},{"s":"g","k":"down","b":369.4,"t":8.315,"n":8.076},{"s":"g","k":"down","b":370.2,"t":8.315,"n":8.009},{"s":"g","k":"down","b":375,"t":8.315,"n":7.996},{"s":"g","k":"down","b":375.8,"t":8.315,"n":8.049},{"s":"g","k":"down","b":377.2,"t":8.315,"n":8.036},{"s":"g","k":"down","b":379.2,"t":8.315,"n":8.049},{"s":"g","k":"down","b":380.6,"t":8.315,"n":7.909},{"s":"g","k":"down","b":383.6,"t":8.315,"n":7.849}],
"dashes":[{"s":"A","b":18.2,"p":5.306},{"s":"A","b":226.6,"p":10.007},{"s":"B","b":226.9,"p":10.007},{"s":"B","b":297.9,"p":7.763},{"s":"L1","b":297.1,"p":7.763},{"s":"L1","b":325.7,"p":9.108},{"s":"L2","b":298.4,"p":7.763},{"s":"L2","b":329.9,"p":9.214},{"s":"L3","b":300.7,"p":7.763},{"s":"L3","b":334.6,"p":9.221},{"s":"D","b":329.6,"p":9.214},{"s":"D","b":345.8,"p":7.463}],
"arrow":[{"s":"shaft","b":365.8,"p":7.53},{"s":"shaft","b":374.4,"p":7.037},{"s":"head","b":371.1,"p":7.07},{"s":"head","b":374.4,"p":7.037},{"s":"head","b":376.1,"p":7.117}]},
"layer":[
{"mark":{"type":"rect","fill":"#ffffff","opacity":0},"data":{"values":[{"b":0,"p":7}]},"encoding":{
"x":{"field":"b","type":"quantitative","scale":{"domain":[-3.53,383.6],"nice":false,"zero":false},"axis":{"orient":"bottom","title":null,"values":[1.5,39,69,99,129,159,189,219,242,266,309,339,369],"labelExpr":"{'1.5':'Jul','39':'11','69':'18','99':'25','129':'Aug','159':'8','189':'15','219':'22','242':'26','266':'Sep','309':'12','339':'19','369':'26'}[datum.value]","labelOverlap":false,"labelFlush":false,"grid":false,"ticks":false,"domainColor":"#e0e3eb","domainWidth":1,"labelFontSize":11.5,"labelPadding":6,"labelFont":"Noto Sans","labelColor":{"condition":{"test":"datum.value==1.5||datum.value==129||datum.value==266","value":"#2a2e39"},"value":"#5d606b"}}},
"y":{"field":"p","type":"quantitative","scale":{"domain":[4.967,10.393],"nice":false,"zero":false},"axis":{"orient":"right","title":null,"values":[5,5.25,5.5,5.75,6,6.25,6.5,6.75,7,7.25,7.5,7.75,8,8.25,8.5,8.75,9,9.25,9.5,9.75,10],"format":".3f","grid":false,"ticks":false,"domainColor":"#e0e3eb","domainWidth":1,"labelFontSize":11.5,"labelPadding":10,"labelFont":"Noto Sans","labelColor":"#434651","labelOverlap":false,"labelFlush":false}}}},
{"data":{"name":"cloud"},"mark":{"type":"area","interpolate":"linear"},"encoding":{"x":{"field":"b","type":"quantitative","scale":{"domain":[-3.53,383.6],"nice":false,"zero":false},"axis":null},"y":{"field":"t","type":"quantitative","scale":{"domain":[4.967,10.393],"nice":false,"zero":false},"axis":null},"y2":{"field":"n"},"detail":{"field":"s"},"color":{"field":"k","type":"nominal","legend":null,"scale":{"domain":["down","up"],"range":["#feecea","#eaf4ec"]}}}},
{"data":{"name":"candles"},"mark":{"type":"rule","strokeWidth":1},"encoding":{"x":{"field":"b","type":"quantitative","scale":{"domain":[-3.53,383.6],"nice":false,"zero":false},"axis":null},"y":{"field":"l","type":"quantitative","scale":{"domain":[4.967,10.393],"nice":false,"zero":false},"axis":null},"y2":{"field":"h"},"color":{"condition":{"test":"datum.c>=datum.o","value":"#26a69a"},"value":"#ef5350"}}},
{"data":{"name":"candles"},"mark":{"type":"bar","size":3},"encoding":{"x":{"field":"b","type":"quantitative","scale":{"domain":[-3.53,383.6],"nice":false,"zero":false},"axis":null},"y":{"field":"o","type":"quantitative","scale":{"domain":[4.967,10.393],"nice":false,"zero":false},"axis":null},"y2":{"field":"c"},"color":{"condition":{"test":"datum.c>=datum.o","value":"#388e3c"},"value":"#ef5350"}}},
{"data":{"name":"dashes"},"mark":{"type":"line","color":"#2196f3","strokeWidth":1,"strokeDash":[4,4]},"encoding":{"x":{"field":"b","type":"quantitative","scale":{"domain":[-3.53,383.6],"nice":false,"zero":false},"axis":null},"y":{"field":"p","type":"quantitative","scale":{"domain":[4.967,10.393],"nice":false,"zero":false},"axis":null},"detail":{"field":"s"}}},
{"data":{"values":[{"from":143.7,"to":383.6,"top":8.44,"bottom":8.378}]},"mark":{"type":"rect","color":"#f23645","opacity":0.2},"encoding":{"x":{"field":"from","type":"quantitative","scale":{"domain":[-3.53,383.6],"nice":false,"zero":false},"axis":null},"x2":{"field":"to"},"y":{"field":"top","type":"quantitative","scale":{"domain":[4.967,10.393],"nice":false,"zero":false},"axis":null},"y2":{"field":"bottom"}}},
{"data":{"values":[{"from":-3.53,"to":383.6,"price":7.68}]},"mark":{"type":"rule","color":"#ef5350","strokeWidth":1,"strokeDash":[1,3]},"encoding":{"x":{"field":"from","type":"quantitative","scale":{"domain":[-3.53,383.6],"nice":false,"zero":false},"axis":null},"x2":{"field":"to"},"y":{"field":"price","type":"quantitative","scale":{"domain":[4.967,10.393],"nice":false,"zero":false},"axis":null}}},
{"data":{"values":[{"from":143.7,"to":383.6,"price":8.44}]},"mark":{"type":"rule","color":"#f23645","strokeWidth":2},"encoding":{"x":{"field":"from","type":"quantitative","scale":{"domain":[-3.53,383.6],"nice":false,"zero":false},"axis":null},"x2":{"field":"to"},"y":{"field":"price","type":"quantitative","scale":{"domain":[4.967,10.393],"nice":false,"zero":false},"axis":null}}},
{"data":{"values":[{"from":139.8,"to":383.6,"price":7.63}]},"mark":{"type":"rule","color":"#2962ff","strokeWidth":2},"encoding":{"x":{"field":"from","type":"quantitative","scale":{"domain":[-3.53,383.6],"nice":false,"zero":false},"axis":null},"x2":{"field":"to"},"y":{"field":"price","type":"quantitative","scale":{"domain":[4.967,10.393],"nice":false,"zero":false},"axis":null}}},
{"data":{"values":[{"from":339.6,"to":383.6,"price":6.965}]},"mark":{"type":"rule","color":"#4caf50","strokeWidth":2},"encoding":{"x":{"field":"from","type":"quantitative","scale":{"domain":[-3.53,383.6],"nice":false,"zero":false},"axis":null},"x2":{"field":"to"},"y":{"field":"price","type":"quantitative","scale":{"domain":[4.967,10.393],"nice":false,"zero":false},"axis":null}}},
{"data":{"values":[{"from":18.8,"to":383.6,"price":7.63},{"from":297.6,"to":383.6,"price":6.96},{"from":296.5,"to":383.6,"price":6.855}]},"mark":{"type":"rule","color":"#2196f3","strokeWidth":2,"strokeDash":[2,4]},"encoding":{"x":{"field":"from","type":"quantitative","scale":{"domain":[-3.53,383.6],"nice":false,"zero":false},"axis":null},"x2":{"field":"to"},"y":{"field":"price","type":"quantitative","scale":{"domain":[4.967,10.393],"nice":false,"zero":false},"axis":null}}},
{"data":{"values":[{"from":332.7,"to":383.6,"price":8.365}]},"mark":{"type":"rule","color":"#ff9800","strokeWidth":2,"strokeDash":[2,4]},"encoding":{"x":{"field":"from","type":"quantitative","scale":{"domain":[-3.53,383.6],"nice":false,"zero":false},"axis":null},"x2":{"field":"to"},"y":{"field":"price","type":"quantitative","scale":{"domain":[4.967,10.393],"nice":false,"zero":false},"axis":null}}},
{"data":{"name":"arrow"},"mark":{"type":"line","color":"#f23645","strokeWidth":2},"encoding":{"x":{"field":"b","type":"quantitative","scale":{"domain":[-3.53,383.6],"nice":false,"zero":false},"axis":null},"y":{"field":"p","type":"quantitative","scale":{"domain":[4.967,10.393],"nice":false,"zero":false},"axis":null},"detail":{"field":"s"}}},
{"data":{"values":[{"x":383.75,"x2":400.8,"y":4.96,"y2":4.8}]},"mark":{"type":"rect","fill":"#ffffff"},"encoding":{"x":{"field":"x","type":"quantitative","scale":{"domain":[-3.53,383.6],"nice":false,"zero":false},"axis":null},"x2":{"field":"x2"},"y":{"field":"y","type":"quantitative","scale":{"domain":[4.967,10.393],"nice":false,"zero":false},"axis":null},"y2":{"field":"y2"}}},
{"data":{"values":[{"x":383.6,"x2":400.9,"y":4.967,"y2":4.967},{"x":383.6,"x2":383.6,"y":4.967,"y2":4.787}]},"mark":{"type":"rule","color":"#e0e3eb","strokeWidth":1},"encoding":{"x":{"field":"x","type":"quantitative","scale":{"domain":[-3.53,383.6],"nice":false,"zero":false},"axis":null},"x2":{"field":"x2"},"y":{"field":"y","type":"quantitative","scale":{"domain":[4.967,10.393],"nice":false,"zero":false},"axis":null},"y2":{"field":"y2"}}},
{"data":{"values":[{"x":-3.53,"x2":400.9,"y":10.393,"y2":4.787}]},"mark":{"type":"rect","fill":null,"stroke":"#f0f3fa","strokeWidth":2},"encoding":{"x":{"field":"x","type":"quantitative","scale":{"domain":[-3.53,383.6],"nice":false,"zero":false},"axis":null},"x2":{"field":"x2"},"y":{"field":"y","type":"quantitative","scale":{"domain":[4.967,10.393],"nice":false,"zero":false},"axis":null},"y2":{"field":"y2"}}},
{"data":{"values":[{"x":383.8,"x2":396.4,"y":8.493,"y2":8.387,"v":8.44}]},"mark":{"type":"rect","fill":"#f23645","cornerRadius":2},"encoding":{"x":{"field":"x","type":"quantitative","scale":{"domain":[-3.53,383.6],"nice":false,"zero":false},"axis":null},"x2":{"field":"x2"},"y":{"field":"y","type":"quantitative","scale":{"domain":[4.967,10.393],"nice":false,"zero":false},"axis":null},"y2":{"field":"y2"}}},
{"data":{"values":[{"x":383.8,"x2":396.4,"y":7.683,"y2":7.577,"v":7.63}]},"mark":{"type":"rect","fill":"#2962ff","cornerRadius":2},"encoding":{"x":{"field":"x","type":"quantitative","scale":{"domain":[-3.53,383.6],"nice":false,"zero":false},"axis":null},"x2":{"field":"x2"},"y":{"field":"y","type":"quantitative","scale":{"domain":[4.967,10.393],"nice":false,"zero":false},"axis":null},"y2":{"field":"y2"}}},
{"data":{"values":[{"x":383.8,"x2":396.4,"y":7.018,"y2":6.912,"v":6.965}]},"mark":{"type":"rect","fill":"#4caf50","cornerRadius":2},"encoding":{"x":{"field":"x","type":"quantitative","scale":{"domain":[-3.53,383.6],"nice":false,"zero":false},"axis":null},"x2":{"field":"x2"},"y":{"field":"y","type":"quantitative","scale":{"domain":[4.967,10.393],"nice":false,"zero":false},"axis":null},"y2":{"field":"y2"}}},
{"data":{"values":[{"text":"8.440","x":390.2,"p":8.44},{"text":"7.630","x":390.2,"p":7.63},{"text":"6.965","x":390.2,"p":6.965}]},"mark":{"type":"text","color":"#ffffff","fontSize":11.5,"fontWeight":"bold","align":"center","baseline":"middle"},"encoding":{"x":{"field":"x","type":"quantitative","scale":{"domain":[-3.53,383.6],"nice":false,"zero":false},"axis":null},"y":{"field":"p","type":"quantitative","scale":{"domain":[4.967,10.393],"nice":false,"zero":false},"axis":null},"text":{"field":"text"}}},
{"data":{"values":[{"text":"Genesiv published on TradingView.com, Sep 22, 2022 15:54 UTC+8","x":-3.53,"p":10.493},{"text":"E-mini Natural Gas Futures, 4h, NYMEX_MINI","x":-1.3,"p":10.313},{"text":"Ichimoku","x":-1.3,"p":10.2},{"text":"USD","x":386.4,"p":10.32},{"text":"MMBtu","x":386.4,"p":10.186},{"text":"TradingView","x":3,"p":4.674}]},"mark":{"type":"text","color":"#363a45","fontSize":11.5,"align":"left","baseline":"middle"},"encoding":{"x":{"field":"x","type":"quantitative","scale":{"domain":[-3.53,383.6],"nice":false,"zero":false},"axis":null},"y":{"field":"p","type":"quantitative","scale":{"domain":[4.967,10.393],"nice":false,"zero":false},"axis":null},"text":{"field":"text"}}},
{"data":{"values":[{"text":"−0.055 (−0.71%)","x":67.2,"p":10.313}]},"mark":{"type":"text","color":"#ef5350","fontSize":11.5,"align":"left","baseline":"middle"},"encoding":{"x":{"field":"x","type":"quantitative","scale":{"domain":[-3.53,383.6],"nice":false,"zero":false},"axis":null},"y":{"field":"p","type":"quantitative","scale":{"domain":[4.967,10.393],"nice":false,"zero":false},"axis":null},"text":{"field":"text"}}},
{"data":{"values":[{"text":"8.315","x":14,"p":10.2}]},"mark":{"type":"text","color":"#f7a5a5","fontSize":11.5,"align":"left","baseline":"middle"},"encoding":{"x":{"field":"x","type":"quantitative","scale":{"domain":[-3.53,383.6],"nice":false,"zero":false},"axis":null},"y":{"field":"p","type":"quantitative","scale":{"domain":[4.967,10.393],"nice":false,"zero":false},"axis":null},"text":{"field":"text"}}},
{"data":{"values":[{"text":"1st resistance","x":381.4,"p":8.522}]},"mark":{"type":"text","color":"#f23645","fontSize":13,"fontWeight":600,"align":"right","baseline":"middle"},"encoding":{"x":{"field":"x","type":"quantitative","scale":{"domain":[-3.53,383.6],"nice":false,"zero":false},"axis":null},"y":{"field":"p","type":"quantitative","scale":{"domain":[4.967,10.393],"nice":false,"zero":false},"axis":null},"text":{"field":"text"}}},
{"data":{"values":[{"text":"Pivot","x":381.4,"p":7.716}]},"mark":{"type":"text","color":"#2962ff","fontSize":13,"fontWeight":600,"align":"right","baseline":"middle"},"encoding":{"x":{"field":"x","type":"quantitative","scale":{"domain":[-3.53,383.6],"nice":false,"zero":false},"axis":null},"y":{"field":"p","type":"quantitative","scale":{"domain":[4.967,10.393],"nice":false,"zero":false},"axis":null},"text":{"field":"text"}}},
{"data":{"values":[{"text":"1st support","x":381.4,"p":7.044}]},"mark":{"type":"text","color":"#4caf50","fontSize":13,"fontWeight":600,"align":"right","baseline":"middle"},"encoding":{"x":{"field":"x","type":"quantitative","scale":{"domain":[-3.53,383.6],"nice":false,"zero":false},"axis":null},"y":{"field":"p","type":"quantitative","scale":{"domain":[4.967,10.393],"nice":false,"zero":false},"axis":null},"text":{"field":"text"}}},
{"data":{"values":[{"text":"0.618(8.365)","x":308.5,"p":8.429}]},"mark":{"type":"text","color":"#ff9800","fontSize":11.5,"align":"left","baseline":"middle"},"encoding":{"x":{"field":"x","type":"quantitative","scale":{"domain":[-3.53,383.6],"nice":false,"zero":false},"axis":null},"y":{"field":"p","type":"quantitative","scale":{"domain":[4.967,10.393],"nice":false,"zero":false},"axis":null},"text":{"field":"text"}}},
{"data":{"values":[{"text":"50.00%(7.640)","x":16.5,"p":7.703},{"text":"1(6.960)","x":295.4,"p":7.031},{"text":"161.80%(6.855)","x":294.6,"p":6.916}]},"mark":{"type":"text","color":"#2196f3","fontSize":11.5,"align":"right","baseline":"middle","clip":true},"encoding":{"x":{"field":"x","type":"quantitative","scale":{"domain":[-3.53,383.6],"nice":false,"zero":false},"axis":null},"y":{"field":"p","type":"quantitative","scale":{"domain":[4.967,10.393],"nice":false,"zero":false},"axis":null},"text":{"field":"text"}}},
{"data":{"values":[{"x":-0.8,"p":4.674}]},"mark":{"type":"point","filled":true,"fill":"#131722","stroke":null,"opacity":1,"size":372,"shape":"M-1 -0.5H-0.17V0.5H-0.58V-0.08H-1ZM0.15 -0.35A0.15 0.15 0 1 1 -0.15 -0.35A0.15 0.15 0 1 1 0.15 -0.35ZM0.5 -0.5H1L0.42 0.5H-0.1Z"},"encoding":{"x":{"field":"x","type":"quantitative","scale":{"domain":[-3.53,383.6],"nice":false,"zero":false},"axis":null},"y":{"field":"p","type":"quantitative","scale":{"domain":[4.967,10.393],"nice":false,"zero":false},"axis":null}}}
]}
